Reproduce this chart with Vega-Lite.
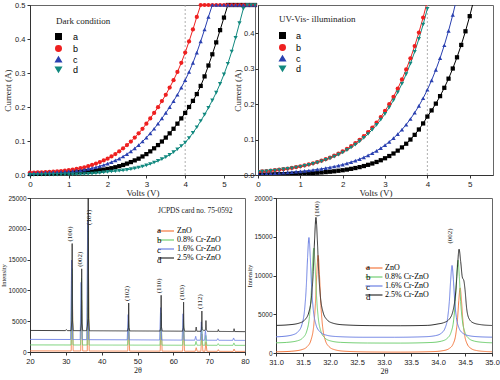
{
"$schema": "https://vega.github.io/schema/vega-lite/v6.json",
"background": "white",
"padding": {"left": 0, "top": 0, "right": 0, "bottom": 0},
"config": {
  "font": "Liberation Sans",
  "view": {"stroke": "#666", "strokeWidth": 1},
  "axis": {"grid": false, "labelOverlap": false, "labelFlush": false, "domainColor": "#333", "tickColor": "#333", "labelColor": "#222", "titleColor": "#222", "labelFont": "Liberation Sans", "labelFontSize": 8, "titleFont": "Liberation Serif", "titleFontWeight": "normal", "titleFontSize": 9, "tickSize": 3, "labelPadding": 2, "titlePadding": 2},
  "legend": {"padding": 0},
  "title": {"font": "Liberation Serif", "fontWeight": "normal", "fontSize": 9, "color": "#222", "anchor": "start", "frame": "group", "offset": 0, "baseline": "middle"}
},
"datasets": {
"dark": [
{"V":0,"I":0.003,"s":"a"},{"V":0.1,"I":0.0033,"s":"a"},{"V":0.2,"I":0.0036,"s":"a"},{"V":0.3,"I":0.004,"s":"a"},{"V":0.4,"I":0.0044,"s":"a"},{"V":0.5,"I":0.0048,"s":"a"},{"V":0.6,"I":0.0055,"s":"a"},{"V":0.7,"I":0.0062,"s":"a"},{"V":0.8,"I":0.007,"s":"a"},{"V":0.9,"I":0.0073,"s":"a"},{"V":1,"I":0.0076,"s":"a"},{"V":1.1,"I":0.008,"s":"a"},{"V":1.2,"I":0.0085,"s":"a"},{"V":1.3,"I":0.009,"s":"a"},{"V":1.4,"I":0.0098,"s":"a"},{"V":1.5,"I":0.0106,"s":"a"},{"V":1.6,"I":0.0116,"s":"a"},{"V":1.7,"I":0.0127,"s":"a"},{"V":1.8,"I":0.014,"s":"a"},{"V":1.9,"I":0.0158,"s":"a"},{"V":2,"I":0.0178,"s":"a"},{"V":2.1,"I":0.02,"s":"a"},{"V":2.2,"I":0.0228,"s":"a"},{"V":2.3,"I":0.026,"s":"a"},{"V":2.4,"I":0.0295,"s":"a"},{"V":2.5,"I":0.0335,"s":"a"},{"V":2.6,"I":0.038,"s":"a"},{"V":2.7,"I":0.043,"s":"a"},{"V":2.8,"I":0.048,"s":"a"},{"V":2.9,"I":0.0545,"s":"a"},{"V":3,"I":0.0615,"s":"a"},{"V":3.1,"I":0.0695,"s":"a"},{"V":3.2,"I":0.0785,"s":"a"},{"V":3.3,"I":0.088,"s":"a"},{"V":3.4,"I":0.0985,"s":"a"},{"V":3.5,"I":0.11,"s":"a"},{"V":3.6,"I":0.1225,"s":"a"},{"V":3.7,"I":0.136,"s":"a"},{"V":3.8,"I":0.151,"s":"a"},{"V":3.9,"I":0.1665,"s":"a"},{"V":4,"I":0.1825,"s":"a"},{"V":4.1,"I":0.2,"s":"a"},{"V":4.2,"I":0.218,"s":"a"},{"V":4.3,"I":0.238,"s":"a"},{"V":4.4,"I":0.262,"s":"a"},{"V":4.5,"I":0.29,"s":"a"},{"V":4.6,"I":0.322,"s":"a"},{"V":4.7,"I":0.355,"s":"a"},{"V":4.8,"I":0.39,"s":"a"},{"V":4.9,"I":0.426,"s":"a"},{"V":5,"I":0.463,"s":"a"},{"V":5.1,"I":0.5,"s":"a"},{"V":5.2,"I":0.5,"s":"a"},{"V":5.3,"I":0.5,"s":"a"},{"V":5.4,"I":0.5,"s":"a"},{"V":5.5,"I":0.5,"s":"a"},{"V":5.6,"I":0.5,"s":"a"},{"V":5.7,"I":0.5,"s":"a"},{"V":5.8,"I":0.5,"s":"a"},
{"V":0,"I":0.007,"s":"b"},{"V":0.1,"I":0.0073,"s":"b"},{"V":0.2,"I":0.0076,"s":"b"},{"V":0.3,"I":0.008,"s":"b"},{"V":0.4,"I":0.0085,"s":"b"},{"V":0.5,"I":0.009,"s":"b"},{"V":0.6,"I":0.0098,"s":"b"},{"V":0.7,"I":0.0106,"s":"b"},{"V":0.8,"I":0.0116,"s":"b"},{"V":0.9,"I":0.0127,"s":"b"},{"V":1,"I":0.014,"s":"b"},{"V":1.1,"I":0.0158,"s":"b"},{"V":1.2,"I":0.0178,"s":"b"},{"V":1.3,"I":0.02,"s":"b"},{"V":1.4,"I":0.0228,"s":"b"},{"V":1.5,"I":0.026,"s":"b"},{"V":1.6,"I":0.0295,"s":"b"},{"V":1.7,"I":0.0335,"s":"b"},{"V":1.8,"I":0.038,"s":"b"},{"V":1.9,"I":0.043,"s":"b"},{"V":2,"I":0.048,"s":"b"},{"V":2.1,"I":0.0545,"s":"b"},{"V":2.2,"I":0.0615,"s":"b"},{"V":2.3,"I":0.0695,"s":"b"},{"V":2.4,"I":0.0785,"s":"b"},{"V":2.5,"I":0.088,"s":"b"},{"V":2.6,"I":0.0985,"s":"b"},{"V":2.7,"I":0.11,"s":"b"},{"V":2.8,"I":0.1225,"s":"b"},{"V":2.9,"I":0.136,"s":"b"},{"V":3,"I":0.151,"s":"b"},{"V":3.1,"I":0.1665,"s":"b"},{"V":3.2,"I":0.1825,"s":"b"},{"V":3.3,"I":0.1995,"s":"b"},{"V":3.4,"I":0.2175,"s":"b"},{"V":3.5,"I":0.236,"s":"b"},{"V":3.6,"I":0.257,"s":"b"},{"V":3.7,"I":0.279,"s":"b"},{"V":3.8,"I":0.303,"s":"b"},{"V":3.9,"I":0.33,"s":"b"},{"V":4,"I":0.36,"s":"b"},{"V":4.1,"I":0.393,"s":"b"},{"V":4.2,"I":0.428,"s":"b"},{"V":4.3,"I":0.465,"s":"b"},{"V":4.4,"I":0.5,"s":"b"},{"V":4.5,"I":0.5,"s":"b"},{"V":4.6,"I":0.5,"s":"b"},{"V":4.7,"I":0.5,"s":"b"},{"V":4.8,"I":0.5,"s":"b"},{"V":4.9,"I":0.5,"s":"b"},{"V":5,"I":0.5,"s":"b"},{"V":5.1,"I":0.5,"s":"b"},{"V":5.2,"I":0.5,"s":"b"},{"V":5.3,"I":0.5,"s":"b"},{"V":5.4,"I":0.5,"s":"b"},{"V":5.5,"I":0.5,"s":"b"},{"V":5.6,"I":0.5,"s":"b"},{"V":5.7,"I":0.5,"s":"b"},{"V":5.8,"I":0.5,"s":"b"},
{"V":0,"I":0.005,"s":"c"},{"V":0.1,"I":0.0055,"s":"c"},{"V":0.2,"I":0.006,"s":"c"},{"V":0.3,"I":0.007,"s":"c"},{"V":0.4,"I":0.0073,"s":"c"},{"V":0.5,"I":0.0076,"s":"c"},{"V":0.6,"I":0.008,"s":"c"},{"V":0.7,"I":0.0085,"s":"c"},{"V":0.8,"I":0.009,"s":"c"},{"V":0.9,"I":0.0098,"s":"c"},{"V":1,"I":0.0106,"s":"c"},{"V":1.1,"I":0.0116,"s":"c"},{"V":1.2,"I":0.0127,"s":"c"},{"V":1.3,"I":0.014,"s":"c"},{"V":1.4,"I":0.0158,"s":"c"},{"V":1.5,"I":0.0178,"s":"c"},{"V":1.6,"I":0.02,"s":"c"},{"V":1.7,"I":0.0228,"s":"c"},{"V":1.8,"I":0.026,"s":"c"},{"V":1.9,"I":0.0295,"s":"c"},{"V":2,"I":0.0335,"s":"c"},{"V":2.1,"I":0.038,"s":"c"},{"V":2.2,"I":0.043,"s":"c"},{"V":2.3,"I":0.048,"s":"c"},{"V":2.4,"I":0.0545,"s":"c"},{"V":2.5,"I":0.0615,"s":"c"},{"V":2.6,"I":0.0695,"s":"c"},{"V":2.7,"I":0.0785,"s":"c"},{"V":2.8,"I":0.088,"s":"c"},{"V":2.9,"I":0.0985,"s":"c"},{"V":3,"I":0.11,"s":"c"},{"V":3.1,"I":0.1225,"s":"c"},{"V":3.2,"I":0.136,"s":"c"},{"V":3.3,"I":0.151,"s":"c"},{"V":3.4,"I":0.1665,"s":"c"},{"V":3.5,"I":0.1825,"s":"c"},{"V":3.6,"I":0.1995,"s":"c"},{"V":3.7,"I":0.2175,"s":"c"},{"V":3.8,"I":0.236,"s":"c"},{"V":3.9,"I":0.257,"s":"c"},{"V":4,"I":0.279,"s":"c"},{"V":4.1,"I":0.303,"s":"c"},{"V":4.2,"I":0.33,"s":"c"},{"V":4.3,"I":0.36,"s":"c"},{"V":4.4,"I":0.393,"s":"c"},{"V":4.5,"I":0.428,"s":"c"},{"V":4.6,"I":0.465,"s":"c"},{"V":4.7,"I":0.5,"s":"c"},{"V":4.8,"I":0.5,"s":"c"},{"V":4.9,"I":0.5,"s":"c"},{"V":5,"I":0.5,"s":"c"},{"V":5.1,"I":0.5,"s":"c"},{"V":5.2,"I":0.5,"s":"c"},{"V":5.3,"I":0.5,"s":"c"},{"V":5.4,"I":0.5,"s":"c"},{"V":5.5,"I":0.5,"s":"c"},{"V":5.6,"I":0.5,"s":"c"},{"V":5.7,"I":0.5,"s":"c"},{"V":5.8,"I":0.5,"s":"c"},
{"V":0,"I":0.0005,"s":"d"},{"V":0.1,"I":0.0006,"s":"d"},{"V":0.2,"I":0.0007,"s":"d"},{"V":0.3,"I":0.0008,"s":"d"},{"V":0.4,"I":0.0009,"s":"d"},{"V":0.5,"I":0.001,"s":"d"},{"V":0.6,"I":0.0011,"s":"d"},{"V":0.7,"I":0.0012,"s":"d"},{"V":0.8,"I":0.0014,"s":"d"},{"V":0.9,"I":0.0016,"s":"d"},{"V":1,"I":0.0018,"s":"d"},{"V":1.1,"I":0.002,"s":"d"},{"V":1.2,"I":0.0023,"s":"d"},{"V":1.3,"I":0.0026,"s":"d"},{"V":1.4,"I":0.003,"s":"d"},{"V":1.5,"I":0.0035,"s":"d"},{"V":1.6,"I":0.0042,"s":"d"},{"V":1.7,"I":0.0052,"s":"d"},{"V":1.8,"I":0.0062,"s":"d"},{"V":1.9,"I":0.0078,"s":"d"},{"V":2,"I":0.0092,"s":"d"},{"V":2.1,"I":0.0104,"s":"d"},{"V":2.2,"I":0.0113,"s":"d"},{"V":2.3,"I":0.0124,"s":"d"},{"V":2.4,"I":0.0136,"s":"d"},{"V":2.5,"I":0.0153,"s":"d"},{"V":2.6,"I":0.0172,"s":"d"},{"V":2.7,"I":0.0193,"s":"d"},{"V":2.8,"I":0.022,"s":"d"},{"V":2.9,"I":0.025,"s":"d"},{"V":3,"I":0.0285,"s":"d"},{"V":3.1,"I":0.0323,"s":"d"},{"V":3.2,"I":0.0367,"s":"d"},{"V":3.3,"I":0.0415,"s":"d"},{"V":3.4,"I":0.0465,"s":"d"},{"V":3.5,"I":0.0526,"s":"d"},{"V":3.6,"I":0.0594,"s":"d"},{"V":3.7,"I":0.0671,"s":"d"},{"V":3.8,"I":0.0758,"s":"d"},{"V":3.9,"I":0.0852,"s":"d"},{"V":4,"I":0.0954,"s":"d"},{"V":4.1,"I":0.1089,"s":"d"},{"V":4.2,"I":0.1239,"s":"d"},{"V":4.3,"I":0.1405,"s":"d"},{"V":4.4,"I":0.1588,"s":"d"},{"V":4.5,"I":0.1777,"s":"d"},{"V":4.6,"I":0.1978,"s":"d"},{"V":4.7,"I":0.2194,"s":"d"},{"V":4.8,"I":0.2423,"s":"d"},{"V":4.9,"I":0.268,"s":"d"},{"V":5,"I":0.2958,"s":"d"},{"V":5.1,"I":0.3273,"s":"d"},{"V":5.2,"I":0.3633,"s":"d"},{"V":5.3,"I":0.4035,"s":"d"},{"V":5.4,"I":0.4465,"s":"d"},{"V":5.5,"I":0.4895,"s":"d"},{"V":5.6,"I":0.5,"s":"d"},{"V":5.7,"I":0.5,"s":"d"},{"V":5.8,"I":0.5,"s":"d"}
],
"uv": [
{"V":0,"I":0.0011,"s":"a"},{"V":0.1,"I":0.0013,"s":"a"},{"V":0.2,"I":0.0014,"s":"a"},{"V":0.3,"I":0.0016,"s":"a"},{"V":0.4,"I":0.0018,"s":"a"},{"V":0.5,"I":0.0021,"s":"a"},{"V":0.6,"I":0.0024,"s":"a"},{"V":0.7,"I":0.0027,"s":"a"},{"V":0.8,"I":0.003,"s":"a"},{"V":0.9,"I":0.0034,"s":"a"},{"V":1,"I":0.0039,"s":"a"},{"V":1.1,"I":0.0044,"s":"a"},{"V":1.2,"I":0.005,"s":"a"},{"V":1.3,"I":0.0056,"s":"a"},{"V":1.4,"I":0.0064,"s":"a"},{"V":1.5,"I":0.0072,"s":"a"},{"V":1.6,"I":0.0082,"s":"a"},{"V":1.7,"I":0.0093,"s":"a"},{"V":1.8,"I":0.0105,"s":"a"},{"V":1.9,"I":0.012,"s":"a"},{"V":2,"I":0.0135,"s":"a"},{"V":2.1,"I":0.0153,"s":"a"},{"V":2.2,"I":0.0174,"s":"a"},{"V":2.3,"I":0.0197,"s":"a"},{"V":2.4,"I":0.0223,"s":"a"},{"V":2.5,"I":0.0253,"s":"a"},{"V":2.6,"I":0.0287,"s":"a"},{"V":2.7,"I":0.0325,"s":"a"},{"V":2.8,"I":0.0368,"s":"a"},{"V":2.9,"I":0.0417,"s":"a"},{"V":3,"I":0.0473,"s":"a"},{"V":3.1,"I":0.0536,"s":"a"},{"V":3.2,"I":0.0607,"s":"a"},{"V":3.3,"I":0.0688,"s":"a"},{"V":3.4,"I":0.0779,"s":"a"},{"V":3.5,"I":0.0883,"s":"a"},{"V":3.6,"I":0.1001,"s":"a"},{"V":3.7,"I":0.1134,"s":"a"},{"V":3.8,"I":0.1285,"s":"a"},{"V":3.9,"I":0.1456,"s":"a"},{"V":4,"I":0.165,"s":"a"},{"V":4.1,"I":0.1824,"s":"a"},{"V":4.2,"I":0.2015,"s":"a"},{"V":4.3,"I":0.2227,"s":"a"},{"V":4.4,"I":0.2462,"s":"a"},{"V":4.5,"I":0.272,"s":"a"},{"V":4.6,"I":0.3007,"s":"a"},{"V":4.7,"I":0.3323,"s":"a"},{"V":4.8,"I":0.3672,"s":"a"},{"V":4.9,"I":0.4058,"s":"a"},{"V":5,"I":0.4485,"s":"a"},{"V":5.1,"I":0.4957,"s":"a"},
{"V":0,"I":0.009,"s":"b"},{"V":0.1,"I":0.00995,"s":"b"},{"V":0.2,"I":0.011,"s":"b"},{"V":0.3,"I":0.01215,"s":"b"},{"V":0.4,"I":0.01343,"s":"b"},{"V":0.5,"I":0.01484,"s":"b"},{"V":0.6,"I":0.0164,"s":"b"},{"V":0.7,"I":0.01812,"s":"b"},{"V":0.8,"I":0.02003,"s":"b"},{"V":0.9,"I":0.02214,"s":"b"},{"V":1,"I":0.02446,"s":"b"},{"V":1.1,"I":0.02704,"s":"b"},{"V":1.2,"I":0.02988,"s":"b"},{"V":1.3,"I":0.03302,"s":"b"},{"V":1.4,"I":0.0365,"s":"b"},{"V":1.5,"I":0.04034,"s":"b"},{"V":1.6,"I":0.04458,"s":"b"},{"V":1.7,"I":0.04927,"s":"b"},{"V":1.8,"I":0.05445,"s":"b"},{"V":1.9,"I":0.06017,"s":"b"},{"V":2,"I":0.0665,"s":"b"},{"V":2.1,"I":0.0735,"s":"b"},{"V":2.2,"I":0.08123,"s":"b"},{"V":2.3,"I":0.08977,"s":"b"},{"V":2.4,"I":0.09921,"s":"b"},{"V":2.5,"I":0.10964,"s":"b"},{"V":2.6,"I":0.12117,"s":"b"},{"V":2.7,"I":0.13392,"s":"b"},{"V":2.8,"I":0.148,"s":"b"},{"V":2.9,"I":0.16357,"s":"b"},{"V":3,"I":0.18077,"s":"b"},{"V":3.1,"I":0.19978,"s":"b"},{"V":3.2,"I":0.22079,"s":"b"},{"V":3.3,"I":0.24401,"s":"b"},{"V":3.4,"I":0.26968,"s":"b"},{"V":3.5,"I":0.29804,"s":"b"},{"V":3.6,"I":0.32938,"s":"b"},{"V":3.7,"I":0.36403,"s":"b"},{"V":3.8,"I":0.40231,"s":"b"},{"V":3.9,"I":0.44462,"s":"b"},{"V":4,"I":0.49138,"s":"b"},
{"V":0,"I":0.0036,"s":"c"},{"V":0.1,"I":0.004,"s":"c"},{"V":0.2,"I":0.00445,"s":"c"},{"V":0.3,"I":0.00495,"s":"c"},{"V":0.4,"I":0.0055,"s":"c"},{"V":0.5,"I":0.0061,"s":"c"},{"V":0.6,"I":0.0068,"s":"c"},{"V":0.7,"I":0.00753,"s":"c"},{"V":0.8,"I":0.00836,"s":"c"},{"V":0.9,"I":0.00929,"s":"c"},{"V":1,"I":0.01032,"s":"c"},{"V":1.1,"I":0.01146,"s":"c"},{"V":1.2,"I":0.01273,"s":"c"},{"V":1.3,"I":0.01414,"s":"c"},{"V":1.4,"I":0.0157,"s":"c"},{"V":1.5,"I":0.01744,"s":"c"},{"V":1.6,"I":0.01937,"s":"c"},{"V":1.7,"I":0.02151,"s":"c"},{"V":1.8,"I":0.0239,"s":"c"},{"V":1.9,"I":0.02654,"s":"c"},{"V":2,"I":0.02948,"s":"c"},{"V":2.1,"I":0.03274,"s":"c"},{"V":2.2,"I":0.03637,"s":"c"},{"V":2.3,"I":0.0404,"s":"c"},{"V":2.4,"I":0.04487,"s":"c"},{"V":2.5,"I":0.04983,"s":"c"},{"V":2.6,"I":0.05535,"s":"c"},{"V":2.7,"I":0.06148,"s":"c"},{"V":2.8,"I":0.06829,"s":"c"},{"V":2.9,"I":0.07585,"s":"c"},{"V":3,"I":0.08424,"s":"c"},{"V":3.1,"I":0.09357,"s":"c"},{"V":3.2,"I":0.10393,"s":"c"},{"V":3.3,"I":0.11544,"s":"c"},{"V":3.4,"I":0.12821,"s":"c"},{"V":3.5,"I":0.14241,"s":"c"},{"V":3.6,"I":0.15817,"s":"c"},{"V":3.7,"I":0.17569,"s":"c"},{"V":3.8,"I":0.19515,"s":"c"},{"V":3.9,"I":0.21674,"s":"c"},{"V":4,"I":0.24074,"s":"c"},{"V":4.1,"I":0.26739,"s":"c"},{"V":4.2,"I":0.29699,"s":"c"},{"V":4.3,"I":0.32987,"s":"c"},{"V":4.4,"I":0.36639,"s":"c"},{"V":4.5,"I":0.40696,"s":"c"},{"V":4.6,"I":0.452,"s":"c"},{"V":4.7,"I":0.50208,"s":"c"},
{"V":0,"I":0.0086,"s":"d"},{"V":0.1,"I":0.0095,"s":"d"},{"V":0.2,"I":0.0105,"s":"d"},{"V":0.3,"I":0.0116,"s":"d"},{"V":0.4,"I":0.0128,"s":"d"},{"V":0.5,"I":0.0142,"s":"d"},{"V":0.6,"I":0.0157,"s":"d"},{"V":0.7,"I":0.0173,"s":"d"},{"V":0.8,"I":0.0191,"s":"d"},{"V":0.9,"I":0.0212,"s":"d"},{"V":1,"I":0.0234,"s":"d"},{"V":1.1,"I":0.0258,"s":"d"},{"V":1.2,"I":0.0286,"s":"d"},{"V":1.3,"I":0.0316,"s":"d"},{"V":1.4,"I":0.0349,"s":"d"},{"V":1.5,"I":0.0385,"s":"d"},{"V":1.6,"I":0.0426,"s":"d"},{"V":1.7,"I":0.0471,"s":"d"},{"V":1.8,"I":0.052,"s":"d"},{"V":1.9,"I":0.0575,"s":"d"},{"V":2,"I":0.0635,"s":"d"},{"V":2.1,"I":0.0702,"s":"d"},{"V":2.2,"I":0.0776,"s":"d"},{"V":2.3,"I":0.0858,"s":"d"},{"V":2.4,"I":0.0948,"s":"d"},{"V":2.5,"I":0.1048,"s":"d"},{"V":2.6,"I":0.1158,"s":"d"},{"V":2.7,"I":0.128,"s":"d"},{"V":2.8,"I":0.1414,"s":"d"},{"V":2.9,"I":0.1563,"s":"d"},{"V":3,"I":0.1727,"s":"d"},{"V":3.1,"I":0.1909,"s":"d"},{"V":3.2,"I":0.211,"s":"d"},{"V":3.3,"I":0.2332,"s":"d"},{"V":3.4,"I":0.2577,"s":"d"},{"V":3.5,"I":0.2848,"s":"d"},{"V":3.6,"I":0.3147,"s":"d"},{"V":3.7,"I":0.3478,"s":"d"},{"V":3.8,"I":0.3844,"s":"d"},{"V":3.9,"I":0.4249,"s":"d"},{"V":4,"I":0.4695,"s":"d"}
],
"names": [{"s":"a","name":"ZnO"},{"s":"b","name":"0.8% Cr-ZnO"},{"s":"c","name":"1.6% Cr-ZnO"},{"s":"d","name":"2.5% Cr-ZnO"}],
"xrd": [
{"t":20,"I":180,"s":"a"},{"t":31.5,"I":170,"s":"a"},{"t":31.77,"I":12600,"s":"a"},{"t":32.05,"I":170,"s":"a"},{"t":34.15,"I":170,"s":"a"},{"t":34.42,"I":8400,"s":"a"},{"t":34.7,"I":165,"s":"a"},{"t":35.98,"I":165,"s":"a"},{"t":36.25,"I":18500,"s":"a"},{"t":36.52,"I":165,"s":"a"},{"t":47.27,"I":150,"s":"a"},{"t":47.54,"I":3950,"s":"a"},{"t":47.81,"I":150,"s":"a"},{"t":56.33,"I":140,"s":"a"},{"t":56.6,"I":5070,"s":"a"},{"t":56.87,"I":140,"s":"a"},{"t":62.59,"I":130,"s":"a"},{"t":62.86,"I":4140,"s":"a"},{"t":63.13,"I":130,"s":"a"},{"t":66.11,"I":125,"s":"a"},{"t":66.38,"I":700,"s":"a"},{"t":66.65,"I":125,"s":"a"},{"t":67.69,"I":120,"s":"a"},{"t":67.96,"I":2920,"s":"a"},{"t":68.23,"I":120,"s":"a"},{"t":68.83,"I":120,"s":"a"},{"t":69.1,"I":1600,"s":"a"},{"t":69.37,"I":120,"s":"a"},{"t":72.29,"I":110,"s":"a"},{"t":72.56,"I":380,"s":"a"},{"t":72.83,"I":110,"s":"a"},{"t":76.68,"I":100,"s":"a"},{"t":76.95,"I":470,"s":"a"},{"t":77.22,"I":100,"s":"a"},{"t":80,"I":100,"s":"a"},
{"t":20,"I":1150,"s":"b"},{"t":31.45,"I":1140,"s":"b"},{"t":31.72,"I":13550,"s":"b"},{"t":32,"I":1140,"s":"b"},{"t":34.1,"I":1140,"s":"b"},{"t":34.37,"I":12000,"s":"b"},{"t":34.65,"I":1135,"s":"b"},{"t":35.94,"I":1135,"s":"b"},{"t":36.21,"I":20500,"s":"b"},{"t":36.48,"I":1130,"s":"b"},{"t":47.23,"I":1120,"s":"b"},{"t":47.5,"I":5230,"s":"b"},{"t":47.77,"I":1120,"s":"b"},{"t":56.29,"I":1110,"s":"b"},{"t":56.56,"I":6350,"s":"b"},{"t":56.83,"I":1110,"s":"b"},{"t":62.55,"I":1100,"s":"b"},{"t":62.82,"I":5370,"s":"b"},{"t":63.09,"I":1100,"s":"b"},{"t":66.07,"I":1100,"s":"b"},{"t":66.34,"I":1720,"s":"b"},{"t":66.61,"I":1100,"s":"b"},{"t":67.65,"I":1095,"s":"b"},{"t":67.92,"I":4070,"s":"b"},{"t":68.19,"I":1095,"s":"b"},{"t":68.79,"I":1095,"s":"b"},{"t":69.06,"I":2675,"s":"b"},{"t":69.33,"I":1095,"s":"b"},{"t":72.25,"I":1090,"s":"b"},{"t":72.52,"I":1360,"s":"b"},{"t":72.79,"I":1090,"s":"b"},{"t":76.64,"I":1080,"s":"b"},{"t":76.91,"I":1470,"s":"b"},{"t":77.18,"I":1080,"s":"b"},{"t":80,"I":1080,"s":"b"},
{"t":20,"I":2050,"s":"c"},{"t":31.35,"I":2030,"s":"c"},{"t":31.62,"I":14900,"s":"c"},{"t":31.9,"I":2030,"s":"c"},{"t":34,"I":2020,"s":"c"},{"t":34.27,"I":11300,"s":"c"},{"t":34.55,"I":2010,"s":"c"},{"t":35.83,"I":2010,"s":"c"},{"t":36.1,"I":21400,"s":"c"},{"t":36.37,"I":2000,"s":"c"},{"t":47.13,"I":1980,"s":"c"},{"t":47.4,"I":6080,"s":"c"},{"t":47.67,"I":1980,"s":"c"},{"t":56.18,"I":1950,"s":"c"},{"t":56.45,"I":7200,"s":"c"},{"t":56.72,"I":1950,"s":"c"},{"t":62.45,"I":1930,"s":"c"},{"t":62.72,"I":6200,"s":"c"},{"t":62.99,"I":1930,"s":"c"},{"t":65.97,"I":1920,"s":"c"},{"t":66.24,"I":2540,"s":"c"},{"t":66.51,"I":1920,"s":"c"},{"t":67.55,"I":1915,"s":"c"},{"t":67.82,"I":4890,"s":"c"},{"t":68.09,"I":1915,"s":"c"},{"t":68.69,"I":1910,"s":"c"},{"t":68.96,"I":3485,"s":"c"},{"t":69.23,"I":1910,"s":"c"},{"t":72.15,"I":1900,"s":"c"},{"t":72.42,"I":2170,"s":"c"},{"t":72.69,"I":1900,"s":"c"},{"t":76.55,"I":1890,"s":"c"},{"t":76.82,"I":2280,"s":"c"},{"t":77.09,"I":1890,"s":"c"},{"t":80,"I":1880,"s":"c"},
{"t":20,"I":3500,"s":"d"},{"t":29.9,"I":3470,"s":"d"},{"t":30.15,"I":3650,"s":"d"},{"t":30.4,"I":3470,"s":"d"},{"t":31.47,"I":3470,"s":"d"},{"t":31.69,"I":5200,"s":"d"},{"t":31.77,"I":17600,"s":"d"},{"t":31.85,"I":5200,"s":"d"},{"t":32.07,"I":3470,"s":"d"},{"t":34.12,"I":3460,"s":"d"},{"t":34.34,"I":4700,"s":"d"},{"t":34.42,"I":13500,"s":"d"},{"t":34.5,"I":4700,"s":"d"},{"t":34.72,"I":3460,"s":"d"},{"t":35.8,"I":3470,"s":"d"},{"t":36,"I":4200,"s":"d"},{"t":36.17,"I":5500,"s":"d"},{"t":36.25,"I":25000,"s":"d"},{"t":36.33,"I":5500,"s":"d"},{"t":36.55,"I":3450,"s":"d"},{"t":47.24,"I":3420,"s":"d"},{"t":47.46,"I":3970,"s":"d"},{"t":47.54,"I":7950,"s":"d"},{"t":47.62,"I":3970,"s":"d"},{"t":47.84,"I":3420,"s":"d"},{"t":56.3,"I":3400,"s":"d"},{"t":56.52,"I":4090,"s":"d"},{"t":56.6,"I":9200,"s":"d"},{"t":56.68,"I":4090,"s":"d"},{"t":56.9,"I":3400,"s":"d"},{"t":62.56,"I":3380,"s":"d"},{"t":62.78,"I":3940,"s":"d"},{"t":62.86,"I":8100,"s":"d"},{"t":62.94,"I":3940,"s":"d"},{"t":63.16,"I":3380,"s":"d"},{"t":66.2,"I":3370,"s":"d"},{"t":66.38,"I":4050,"s":"d"},{"t":66.56,"I":3370,"s":"d"},{"t":67.7,"I":3360,"s":"d"},{"t":67.88,"I":3760,"s":"d"},{"t":67.96,"I":6650,"s":"d"},{"t":68.04,"I":3760,"s":"d"},{"t":68.5,"I":3450,"s":"d"},{"t":68.95,"I":3600,"s":"d"},{"t":69.1,"I":5100,"s":"d"},{"t":69.25,"I":3600,"s":"d"},{"t":69.5,"I":3350,"s":"d"},{"t":72.4,"I":3340,"s":"d"},{"t":72.56,"I":3650,"s":"d"},{"t":72.72,"I":3340,"s":"d"},{"t":76.8,"I":3320,"s":"d"},{"t":76.95,"I":3780,"s":"d"},{"t":77.1,"I":3320,"s":"d"},{"t":80,"I":3300,"s":"d"}
],
"xrdz": [
{"t":31,"I":150,"s":"a"},{"t":31.28,"I":224,"s":"a"},{"t":31.48,"I":438,"s":"a"},{"t":31.58,"I":838,"s":"a"},{"t":31.65,"I":1713,"s":"a"},{"t":31.7,"I":3613,"s":"a"},{"t":31.73,"I":6350,"s":"a"},{"t":31.755,"I":10100,"s":"a"},{"t":31.78,"I":12600,"s":"a"},{"t":31.805,"I":10100,"s":"a"},{"t":31.83,"I":6350,"s":"a"},{"t":31.86,"I":3613,"s":"a"},{"t":31.91,"I":1713,"s":"a"},{"t":31.98,"I":838,"s":"a"},{"t":32.08,"I":438,"s":"a"},{"t":32.28,"I":224,"s":"a"},{"t":32.78,"I":130,"s":"a"},{"t":33.3,"I":115,"s":"a"},{"t":33.91,"I":182,"s":"a"},{"t":34.11,"I":324,"s":"a"},{"t":34.21,"I":590,"s":"a"},{"t":34.28,"I":1171,"s":"a"},{"t":34.33,"I":2432,"s":"a"},{"t":34.36,"I":4250,"s":"a"},{"t":34.385,"I":6740,"s":"a"},{"t":34.41,"I":8400,"s":"a"},{"t":34.435,"I":6740,"s":"a"},{"t":34.46,"I":4250,"s":"a"},{"t":34.49,"I":2432,"s":"a"},{"t":34.54,"I":1171,"s":"a"},{"t":34.61,"I":590,"s":"a"},{"t":34.71,"I":324,"s":"a"},{"t":34.91,"I":182,"s":"a"},{"t":35,"I":159,"s":"a"},
{"t":31,"I":1312,"s":"b"},{"t":31.2,"I":1372,"s":"b"},{"t":31.4,"I":1582,"s":"b"},{"t":31.5,"I":1976,"s":"b"},{"t":31.57,"I":2837,"s":"b"},{"t":31.62,"I":4706,"s":"b"},{"t":31.65,"I":7400,"s":"b"},{"t":31.675,"I":11090,"s":"b"},{"t":31.7,"I":13550,"s":"b"},{"t":31.725,"I":11090,"s":"b"},{"t":31.75,"I":7400,"s":"b"},{"t":31.78,"I":4706,"s":"b"},{"t":31.83,"I":2837,"s":"b"},{"t":31.9,"I":1976,"s":"b"},{"t":32,"I":1582,"s":"b"},{"t":32.2,"I":1372,"s":"b"},{"t":32.7,"I":1290,"s":"b"},{"t":33.3,"I":1280,"s":"b"},{"t":33.87,"I":1356,"s":"b"},{"t":34.07,"I":1540,"s":"b"},{"t":34.17,"I":1884,"s":"b"},{"t":34.24,"I":2637,"s":"b"},{"t":34.29,"I":4271,"s":"b"},{"t":34.32,"I":6625,"s":"b"},{"t":34.345,"I":9850,"s":"b"},{"t":34.37,"I":12000,"s":"b"},{"t":34.395,"I":9850,"s":"b"},{"t":34.42,"I":6625,"s":"b"},{"t":34.45,"I":4271,"s":"b"},{"t":34.5,"I":2637,"s":"b"},{"t":34.57,"I":1884,"s":"b"},{"t":34.67,"I":1540,"s":"b"},{"t":34.87,"I":1356,"s":"b"},{"t":35,"I":1317,"s":"b"},
{"t":31,"I":2086,"s":"c"},{"t":31.11,"I":2128,"s":"c"},{"t":31.31,"I":2348,"s":"c"},{"t":31.41,"I":2761,"s":"c"},{"t":31.48,"I":3664,"s":"c"},{"t":31.53,"I":5625,"s":"c"},{"t":31.56,"I":8450,"s":"c"},{"t":31.585,"I":12320,"s":"c"},{"t":31.61,"I":14900,"s":"c"},{"t":31.635,"I":12320,"s":"c"},{"t":31.66,"I":8450,"s":"c"},{"t":31.69,"I":5625,"s":"c"},{"t":31.74,"I":3664,"s":"c"},{"t":31.81,"I":2761,"s":"c"},{"t":31.91,"I":2348,"s":"c"},{"t":32.11,"I":2128,"s":"c"},{"t":32.61,"I":2032,"s":"c"},{"t":33.2,"I":2030,"s":"c"},{"t":33.76,"I":2100,"s":"c"},{"t":33.96,"I":2251,"s":"c"},{"t":34.06,"I":2549,"s":"c"},{"t":34.13,"I":3200,"s":"c"},{"t":34.18,"I":4613,"s":"c"},{"t":34.21,"I":6650,"s":"c"},{"t":34.235,"I":9440,"s":"c"},{"t":34.26,"I":11300,"s":"c"},{"t":34.285,"I":9440,"s":"c"},{"t":34.31,"I":6650,"s":"c"},{"t":34.34,"I":4613,"s":"c"},{"t":34.39,"I":3200,"s":"c"},{"t":34.46,"I":2549,"s":"c"},{"t":34.56,"I":2251,"s":"c"},{"t":34.76,"I":2092,"s":"c"},{"t":35,"I":2042,"s":"c"},
{"t":31,"I":3563,"s":"d"},{"t":31.24,"I":3640,"s":"d"},{"t":31.44,"I":3880,"s":"d"},{"t":31.54,"I":4330,"s":"d"},{"t":31.61,"I":5300,"s":"d"},{"t":31.66,"I":7430,"s":"d"},{"t":31.69,"I":10500,"s":"d"},{"t":31.715,"I":14700,"s":"d"},{"t":31.74,"I":17500,"s":"d"},{"t":31.765,"I":14700,"s":"d"},{"t":31.79,"I":10500,"s":"d"},{"t":31.82,"I":7430,"s":"d"},{"t":31.87,"I":5300,"s":"d"},{"t":31.94,"I":4330,"s":"d"},{"t":32.04,"I":3880,"s":"d"},{"t":32.24,"I":3640,"s":"d"},{"t":32.74,"I":3535,"s":"d"},{"t":33.3,"I":3520,"s":"d"},{"t":33.8,"I":3565,"s":"d"},{"t":34,"I":3750,"s":"d"},{"t":34.1,"I":3900,"s":"d"},{"t":34.2,"I":4300,"s":"d"},{"t":34.28,"I":5500,"s":"d"},{"t":34.33,"I":8000,"s":"d"},{"t":34.36,"I":11000,"s":"d"},{"t":34.39,"I":13400,"s":"d"},{"t":34.42,"I":11800,"s":"d"},{"t":34.45,"I":9800,"s":"d"},{"t":34.48,"I":9300,"s":"d"},{"t":34.5,"I":8200,"s":"d"},{"t":34.53,"I":5800,"s":"d"},{"t":34.57,"I":4500,"s":"d"},{"t":34.65,"I":3900,"s":"d"},{"t":34.8,"I":3650,"s":"d"},{"t":35,"I":3550,"s":"d"}
],
"hkl": [{"t":32.07,"I":17600,"hkl":"(100)"},{"t":34.72,"I":13500,"hkl":"(002)"},{"t":37.2,"I":20300,"hkl":"(101)"},{"t":47.84,"I":7950,"hkl":"(102)"},{"t":56.9,"I":9200,"hkl":"(110)"},{"t":63.16,"I":8100,"hkl":"(103)"},{"t":68.26,"I":6650,"hkl":"(112)"}],
"hklz": [{"t":31.82,"I":17500,"hkl":"(100)"},{"t":34.28,"I":14000,"hkl":"(002)"}]
},
"spacing": -9,
"resolve": {"scale": {"color": "independent", "shape": "independent", "strokeDash": "independent"}},
"vconcat": [
{
"spacing": -26,
"resolve": {"scale": {"color": "independent", "shape": "independent", "strokeDash": "independent"}},
"hconcat": [
{
"width": 225, "height": 170,
"title": {"text": "Dark condition", "dx": 26, "dy": 29},
"resolve": {"axis": {"y": "independent"}},
"layer": [
{"data": {"values": [{}]}, "mark": {"type": "rule", "color": "#999", "strokeDash": [2, 2], "strokeWidth": 0.8}, "encoding": {"x": {"datum": 4, "type": "quantitative"}}},
{"data": {"name": "dark"},
 "mark": {"type": "line", "strokeWidth": 1},
 "encoding": {
  "x": {"field": "V", "type": "quantitative", "scale": {"domain": [0, 5.8], "nice": false, "zero": false}, "axis": {"title": "Volts (V)", "labelOverlap": false, "values": [0,1,2,3,4,5], "titlePadding": 0}},
  "y": {"field": "I", "type": "quantitative", "scale": {"domain": [0, 0.5], "nice": false}, "axis": {"orient": "left", "title": "Current (A)", "labelOverlap": false, "labelFontSize": 7.5, "values": [0,0.2,0.4], "format": ".1f"}},
  "color": {"field": "s", "type": "nominal", "scale": {"domain": ["a","b","c","d"], "range": ["#000000","#ee2020","#2a40b0","#12897f"]}, "legend": {"title": null, "orient": "none", "legendX": 24, "legendY": 27, "symbolSize": 30, "labelFontSize": 9, "labelOffset": 10, "rowPadding": -1}}
 }},
{"data": {"name": "dark"}, "mark": {"type": "point", "filled": true, "size": 18, "opacity": 1},
 "encoding": {
  "x": {"field": "V", "type": "quantitative"},
  "y": {"field": "I", "type": "quantitative", "axis": {"orient": "left", "title": null, "labelOverlap": false, "labelFontSize": 7.5, "values": [0.1,0.3,0.5], "format": ".1f"}},
  "color": {"field": "s", "type": "nominal", "legend": {"title": null, "orient": "none", "legendX": 24, "legendY": 27, "symbolSize": 30, "labelFontSize": 9, "labelOffset": 10, "rowPadding": -1}},
  "shape": {"field": "s", "type": "nominal", "scale": {"domain": ["a","b","c","d"], "range": ["square","circle","triangle-up","triangle-down"]}, "legend": {"title": null, "orient": "none", "legendX": 24, "legendY": 27, "symbolSize": 30, "labelFontSize": 9, "labelOffset": 10, "rowPadding": -1}}
 }}
]
},
{
"width": 235, "height": 170,
"title": {"text": "UV-Vis- illumination", "dx": 21, "dy": 23},
"resolve": {"axis": {"y": "independent"}},
"layer": [
{"data": {"values": [{}]}, "mark": {"type": "rule", "color": "#999", "strokeDash": [2, 2], "strokeWidth": 0.8}, "encoding": {"x": {"datum": 4, "type": "quantitative"}}},
{"data": {"name": "uv"},
 "mark": {"type": "line", "strokeWidth": 1, "clip": true},
 "encoding": {
  "x": {"field": "V", "type": "quantitative", "scale": {"domain": [0, 5.55], "nice": false, "zero": false}, "axis": {"title": "Volts (V)", "labelOverlap": false, "values": [0,1,2,3,4,5], "titlePadding": 0}},
  "y": {"field": "I", "type": "quantitative", "scale": {"domain": [0, 0.48], "nice": false}, "axis": {"orient": "left", "title": "Current (A)", "labelOverlap": false, "labelFontSize": 7.5, "values": [0,0.2,0.4], "format": ".1f", "labelPadding": 1, "titlePadding": 1}},
  "color": {"field": "s", "type": "nominal", "scale": {"domain": ["a","b","c","d"], "range": ["#000000","#ee2020","#2a40b0","#12897f"]}, "legend": {"title": null, "orient": "none", "legendX": 20, "legendY": 26, "symbolSize": 30, "labelFontSize": 9, "labelOffset": 9, "rowPadding": -1}}
 }},
{"data": {"name": "uv"}, "mark": {"type": "point", "filled": true, "size": 18, "opacity": 1, "clip": true},
 "encoding": {
  "x": {"field": "V", "type": "quantitative"},
  "y": {"field": "I", "type": "quantitative", "axis": {"orient": "left", "title": null, "labelOverlap": false, "labelFontSize": 7.5, "values": [0.1,0.3], "format": ".1f", "labelPadding": 1}},
  "color": {"field": "s", "type": "nominal", "legend": {"title": null, "orient": "none", "legendX": 20, "legendY": 26, "symbolSize": 30, "labelFontSize": 9, "labelOffset": 9, "rowPadding": -1}},
  "shape": {"field": "s", "type": "nominal", "scale": {"domain": ["a","b","c","d"], "range": ["square","circle","triangle-up","triangle-down"]}, "legend": {"title": null, "orient": "none", "legendX": 20, "legendY": 26, "symbolSize": 30, "labelFontSize": 9, "labelOffset": 9, "rowPadding": -1}}
 }}
]
}
]
},
{
"spacing": -4,
"resolve": {"scale": {"color": "independent", "shape": "independent", "strokeDash": "independent"}},
"hconcat": [
{
"width": 215, "height": 154,
"title": {"text": "JCPDS card no. 75-0592", "dx": 128, "dy": 23, "fontSize": 7.5},
"resolve": {"axis": {"x": "independent", "y": "independent"}},
"layer": [
{"data": {"name": "xrd"},
 "transform": [{"lookup": "s", "from": {"data": {"name": "names"}, "key": "s", "fields": ["name"]}}],
 "mark": {"type": "line", "strokeWidth": 0.9},
 "encoding": {
  "x": {"field": "t", "type": "quantitative", "scale": {"domain": [20, 80], "nice": false, "zero": false}, "axis": {"orient": "bottom", "title": "2θ", "labelOverlap": false, "titleFontSize": 8, "labelFontSize": 7.5, "values": [20,40,60,80]}},
  "y": {"field": "I", "type": "quantitative", "scale": {"domain": [0, 25000], "nice": false}, "axis": {"orient": "left", "title": "Intensity", "labelOverlap": false, "titleFontSize": 6.5, "labelFontSize": 6.5, "labelPadding": 1, "format": "d", "values": [0,10000,20000], "titlePadding": 1}},
  "color": {"field": "name", "type": "nominal", "scale": {"domain": ["ZnO","0.8% Cr-ZnO","1.6% Cr-ZnO","2.5% Cr-ZnO"], "range": ["#f47a42","#73cf73","#6b7fe3","#2e2e2e"]}, "legend": {"title": null, "orient": "none", "legendX": 131, "legendY": 28, "symbolType": "M-2,0H2", "symbolSize": 64, "symbolStrokeWidth": 1.2, "labelFont": "Liberation Serif", "labelFontSize": 8, "labelOffset": 6, "rowPadding": 0}},
  "strokeDash": {"field": "s", "type": "nominal", "scale": {"domain": ["a","b","c","d"], "range": [[1,0],[1,0],[1,0],[1,0]]}, "legend": {"title": null, "orient": "none", "legendX": 116, "legendY": 27, "symbolType": "stroke", "symbolSize": 4, "symbolOpacity": 0, "labelFont": "Liberation Serif", "labelFontSize": 9, "labelOffset": 2, "rowPadding": -1}}
 }},
{"data": {"name": "hkl"}, "mark": {"type": "text", "angle": 270, "align": "left", "baseline": "bottom", "dx": 2, "font": "Liberation Serif", "fontSize": 7, "color": "#222"},
 "encoding": {
  "x": {"field": "t", "type": "quantitative", "axis": {"orient": "bottom", "title": null, "labelOverlap": false, "labelFontSize": 7.5, "values": [30,50,70]}},
  "y": {"field": "I", "type": "quantitative", "axis": {"orient": "left", "title": null, "labelOverlap": false, "labelFontSize": 6.5, "labelPadding": 1, "format": "d", "values": [5000,15000,25000]}},
  "text": {"field": "hkl"}}}
]
},
{
"width": 216, "height": 155,
"resolve": {"axis": {"x": "independent", "y": "independent"}},
"layer": [
{"data": {"name": "xrdz"},
 "transform": [{"lookup": "s", "from": {"data": {"name": "names"}, "key": "s", "fields": ["name"]}}],
 "mark": {"type": "line", "strokeWidth": 1, "interpolate": "monotone"},
 "encoding": {
  "x": {"field": "t", "type": "quantitative", "scale": {"domain": [31, 35], "nice": false, "zero": false}, "axis": {"orient": "bottom", "title": "2θ", "labelOverlap": false, "titleFontSize": 8, "labelFontSize": 7.5, "values": [31,32,33,34,35], "format": ".1f"}},
  "y": {"field": "I", "type": "quantitative", "scale": {"domain": [0, 20000], "nice": false}, "axis": {"orient": "left", "title": "Intensity", "labelOverlap": false, "titleFontSize": 6.5, "labelFontSize": 6.5, "labelPadding": 1, "format": "d", "values": [0,10000,20000], "titlePadding": 1}},
  "color": {"field": "name", "type": "nominal", "scale": {"domain": ["ZnO","0.8% Cr-ZnO","1.6% Cr-ZnO","2.5% Cr-ZnO"], "range": ["#f47a42","#73cf73","#6b7fe3","#2e2e2e"]}, "legend": {"title": null, "orient": "none", "legendX": 93, "legendY": 65, "symbolType": "M-2,0H2", "symbolSize": 72, "symbolStrokeWidth": 1.2, "labelFont": "Liberation Serif", "labelFontSize": 8, "labelOffset": 6, "rowPadding": 0}},
  "strokeDash": {"field": "s", "type": "nominal", "scale": {"domain": ["a","b","c","d"], "range": [[1,0],[1,0],[1,0],[1,0]]}, "legend": {"title": null, "orient": "none", "legendX": 79, "legendY": 64, "symbolType": "stroke", "symbolSize": 4, "symbolOpacity": 0, "labelFont": "Liberation Serif", "labelFontSize": 9, "labelOffset": 2, "rowPadding": -1}}
 }},
{"data": {"name": "hklz"}, "mark": {"type": "text", "angle": 270, "align": "left", "baseline": "bottom", "dx": 1, "font": "Liberation Serif", "fontSize": 7, "color": "#222"},
 "encoding": {
  "x": {"field": "t", "type": "quantitative", "axis": {"orient": "bottom", "title": null, "labelOverlap": false, "labelFontSize": 7.5, "values": [31.5,32.5,33.5,34.5], "format": ".1f"}},
  "y": {"field": "I", "type": "quantitative", "axis": {"orient": "left", "title": null, "labelOverlap": false, "labelFontSize": 6.5, "labelPadding": 1, "format": "d", "values": [5000,15000]}},
  "text": {"field": "hkl"}}}
]
}
]
}
]
}
